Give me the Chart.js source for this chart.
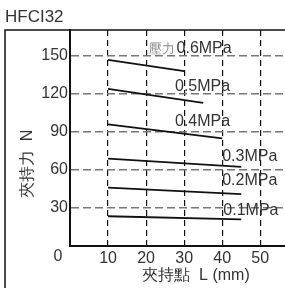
<!DOCTYPE html>
<html>
<head>
<meta charset="utf-8">
<script src="https://cdn.jsdelivr.net/npm/chart.js@4"></script>
<style>
  html, body { margin: 0; padding: 0; background: #fff; overflow: hidden; }
  #wrap { width: 285px; height: 288px; position: relative; }
</style>
</head>
<body>
<div id="wrap"><canvas id="chart" width="285" height="288"></canvas></div>
<script>
// Data
const pressures = ['0.6MPa', '0.5MPa', '0.4MPa', '0.3MPa', '0.2MPa', '0.1MPa'];
const startL = [10, 10, 10, 10, 10, 10];
const endL = [30, 35, 40, 45, 45, 45];
const forceStart = [147, 124, 96, 69, 46, 23.5];
const forceEnd = [138, 113, 85, 62.5, 41, 21];
const yTicks = [30, 60, 90, 120, 150];
const xTicks = [10, 20, 30, 40, 50];

// label anchor (left edge, vertical centre) in data units
const labelAt = [[28, 155.5], [27.6, 125.5], [27.6, 98], [40, 70.5], [40, 51.5], [40.3, 27.6]];

const FONT = '"Liberation Sans", Arial, sans-serif';

const datasets = pressures.map((p, i) => ({
    label: p,
    data: [{ x: startL[i], y: forceStart[i] }, { x: endL[i], y: forceEnd[i] }],
    borderColor: '#111',
    borderWidth: 1.8,
    pointRadius: 0,
    fill: false,
    tension: 0
}));

const decor = {
    id: 'decor',
    afterDraw(chart) {
        const ctx = chart.ctx;
        const xs = chart.scales.x, ys = chart.scales.y;
        ctx.save();
        // outer frame (left + top)
        ctx.strokeStyle = '#111';
        ctx.lineWidth = 1.5;
        ctx.beginPath();
        ctx.moveTo(5, 288);
        ctx.lineTo(5, 30);
        ctx.lineTo(285, 30);
        ctx.stroke();

        // title
        ctx.fillStyle = '#333';
        ctx.font = '17px ' + FONT;
        ctx.textBaseline = 'middle';
        ctx.textAlign = 'left';
        ctx.fillText('HFCI32', 5, 17);

        // origin label
        ctx.font = '16px ' + FONT;
        ctx.textAlign = 'center';
        ctx.fillText('0', xs.getPixelForValue(0) - 12, 257);

        // axis titles
        ctx.fillText('夾持點  L (mm)', 196, 276);
        ctx.save();
        ctx.translate(28, 164);
        ctx.rotate(-Math.PI / 2);
        ctx.fillText('夾持力  N', 0, 0);
        ctx.restore();

        // pressure labels
        ctx.textAlign = 'left';
        pressures.forEach((p, i) => {
            let px = xs.getPixelForValue(labelAt[i][0]);
            const py = ys.getPixelForValue(labelAt[i][1]);
            if (i === 0) {
                ctx.fillStyle = '#888';
                ctx.font = '13px ' + FONT;
                ctx.fillText('壓力', px - 28, py);
            }
            ctx.fillStyle = '#333';
            ctx.font = '16px ' + FONT;
            ctx.fillText(p, px, py);
        });
        ctx.restore();
    }
};

new Chart(document.getElementById('chart'), {
    type: 'line',
    data: { datasets },
    options: {
        responsive: false,
        animation: false,
        layout: { padding: { top: 30, left: 0, right: 0, bottom: 0 } },
        plugins: { legend: { display: false }, tooltip: { enabled: false } },
        scales: {
            x: {
                type: 'linear',
                min: 0,
                max: 56.5,
                afterFit: s => { s.height = 42; },
                afterBuildTicks: s => { s.ticks = [0].concat(xTicks).map(v => ({ value: v })); },
                ticks: {
                    color: '#333',
                    font: { family: FONT, size: 16 },
                    padding: 3,
                    maxRotation: 0,
                    callback: v => (v === 0 ? '' : v)
                },
                grid: {
                    color: ctx => (ctx.tick && ctx.tick.value === 0 ? 'rgba(0,0,0,0)' : '#111'),
                    lineWidth: 1.2,
                    drawTicks: false
                },
                border: { color: '#111', width: 2, dash: [6, 4] }
            },
            y: {
                type: 'linear',
                min: 0,
                max: 170.5,
                afterFit: s => { s.width = 70; },
                afterBuildTicks: s => { s.ticks = [0].concat(yTicks).map(v => ({ value: v })); },
                ticks: {
                    color: '#333',
                    font: { family: FONT, size: 16 },
                    padding: 2,
                    callback: v => (v === 0 ? '' : v)
                },
                grid: {
                    color: ctx => (ctx.tick && ctx.tick.value === 0 ? 'rgba(0,0,0,0)' : '#777'),
                    lineWidth: 1.6,
                    drawTicks: false
                },
                border: { color: '#111', width: 2, dash: [8, 4] }
            }
        }
    },
    plugins: [decor]
});
</script>
</body>
</html>
